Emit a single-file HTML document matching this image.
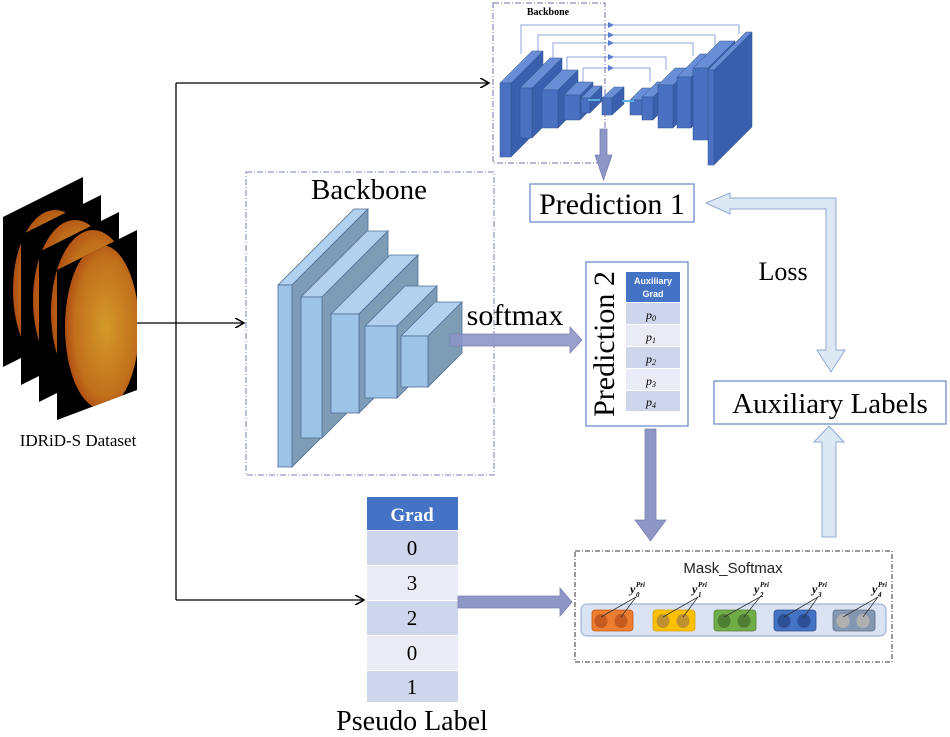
<!DOCTYPE html>
<html><head><meta charset="utf-8"><style>
html,body{margin:0;padding:0;background:#fff;}
svg{display:block;}
text{font-family:"Liberation Serif",serif;}
.s{font-family:"Liberation Sans",sans-serif;}
</style></head><body>
<svg width="950" height="737" viewBox="0 0 950 737" xmlns="http://www.w3.org/2000/svg">
<defs>
<radialGradient id="eye" cx="0.55" cy="0.5" r="0.6">
<stop offset="0" stop-color="#d39a2a"/><stop offset="0.7" stop-color="#c1701c"/><stop offset="1" stop-color="#a8400e"/>
</radialGradient>
<marker id="ah" markerWidth="8" markerHeight="8" refX="7" refY="4" orient="auto"><path d="M0,0 L7,4 L0,8" fill="none" stroke="#000" stroke-width="1.2"/></marker>
<clipPath id="c0"><polygon points="3,217 83,177 83,327 3,367"/></clipPath>
<clipPath id="c1"><polygon points="21,235 101,195 101,345 21,385"/></clipPath>
<clipPath id="c2"><polygon points="39,252 119,212 119,362 39,402"/></clipPath>
<clipPath id="c3"><polygon points="57,270 137,230 137,390 57,420"/></clipPath>
</defs>

<!-- image stack -->
<polygon points="3,217 83,177 83,327 3,367" fill="#000"/>
<ellipse cx="55" cy="290" rx="42" ry="80" fill="url(#eye)" clip-path="url(#c0)"/>
<polygon points="21,235 101,195 101,345 21,385" fill="#000"/>
<ellipse cx="75" cy="300" rx="42" ry="80" fill="url(#eye)" clip-path="url(#c1)"/>
<polygon points="39,252 119,212 119,362 39,402" fill="#000"/>
<ellipse cx="93" cy="312" rx="42" ry="82" fill="url(#eye)" clip-path="url(#c2)"/>
<polygon points="57,270 137,230 137,390 57,420" fill="#000"/>
<ellipse cx="102" cy="327" rx="37" ry="82" fill="url(#eye)" clip-path="url(#c3)"/>
<text x="78" y="446" font-size="17" text-anchor="middle">IDRiD-S Dataset</text>

<!-- black connectors -->
<g stroke="#000" stroke-width="1.3" fill="none">
<line x1="137" y1="323" x2="176" y2="323"/>
<line x1="176" y1="83" x2="176" y2="600"/>
<line x1="176" y1="83" x2="489" y2="83" marker-end="url(#ah)"/>
<line x1="176" y1="323" x2="244" y2="323" marker-end="url(#ah)"/>
<line x1="176" y1="600" x2="364" y2="600" marker-end="url(#ah)"/>
</g>

<!-- top backbone skip lines -->
<g stroke="#8ea6dc" stroke-width="1" fill="none">
<polyline points="521,54 521,25 739,25 739,34"/>
<polyline points="538,60 538,35 715,35 715,46"/>
<polyline points="553,70 553,43 693,43 693,56"/>
<polyline points="567,82 567,57 666,57 666,70"/>
<polyline points="583,88 583,68 650,68 650,82"/>
</g>
<g fill="#5a7bd0"><path d="M608,22 l6,3 l-6,3z M608,32 l6,3 l-6,3z M608,40 l6,3 l-6,3z M608,54 l6,3 l-6,3z M608,65 l6,3 l-6,3z"/></g>
<g stroke="#2f528f" stroke-width="0.5">
<polygon points="500,83 511,83 543,51 532,51" fill="#6a8ed6"/><polygon points="511,83 543,51 543,125 511,157" fill="#3a5fad"/><rect x="500" y="83" width="11" height="74" fill="#4a70c2"/>
<polygon points="520,88 532,88 562,58 550,58" fill="#6a8ed6"/><polygon points="532,88 562,58 562,108 532,138" fill="#3a5fad"/><rect x="520" y="88" width="12" height="50" fill="#4a70c2"/>
<polygon points="542,90 558,90 578,70 562,70" fill="#6a8ed6"/><polygon points="558,90 578,70 578,108 558,128" fill="#3a5fad"/><rect x="542" y="90" width="16" height="38" fill="#4a70c2"/>
<polygon points="564,95 580,95 593,82 577,82" fill="#6a8ed6"/><polygon points="580,95 593,82 593,107 580,120" fill="#3a5fad"/><rect x="564" y="95" width="16" height="25" fill="#4a70c2"/>
<polygon points="581,98 590,98 602,86 593,86" fill="#6a8ed6"/><polygon points="590,98 602,86 602,101 590,113" fill="#3a5fad"/><rect x="581" y="98" width="9" height="15" fill="#4a70c2"/>
<polygon points="602,98 612,98 624,87 614,87" fill="#6a8ed6"/><polygon points="612,98 624,87 624,104 612,115" fill="#3a5fad"/><rect x="602" y="98" width="10" height="17" fill="#4a70c2"/>
<polygon points="630,100 642,100 654,88 642,88" fill="#6a8ed6"/><polygon points="642,100 654,88 654,103 642,115" fill="#3a5fad"/><rect x="630" y="100" width="12" height="15" fill="#4a70c2"/>
<polygon points="642,97 653,97 668,82 657,82" fill="#6a8ed6"/><polygon points="653,97 668,82 668,105 653,120" fill="#3a5fad"/><rect x="642" y="97" width="11" height="23" fill="#4a70c2"/>
<polygon points="658,85 673,85 690,68 675,68" fill="#6a8ed6"/><polygon points="673,85 690,68 690,111 673,128" fill="#3a5fad"/><rect x="658" y="85" width="15" height="43" fill="#4a70c2"/>
<polygon points="677,77 691,77 714,54 700,54" fill="#6a8ed6"/><polygon points="691,77 714,54 714,105 691,128" fill="#3a5fad"/><rect x="677" y="77" width="14" height="51" fill="#4a70c2"/>
<polygon points="693,68 708,68 735,41 720,41" fill="#6a8ed6"/><polygon points="708,68 735,41 735,113 708,140" fill="#3a5fad"/><rect x="693" y="68" width="15" height="72" fill="#4a70c2"/>
<polygon points="708,70 714,70 752,32 746,32" fill="#6a8ed6"/><polygon points="714,70 752,32 752,127 714,165" fill="#3a5fad"/><rect x="708" y="70" width="6" height="95" fill="#4a70c2"/>
</g>
<line x1="588" y1="100" x2="600" y2="100" stroke="#5ab0e0" stroke-width="2"/>
<line x1="622" y1="101" x2="634" y2="101" stroke="#5ab0e0" stroke-width="2"/>
<rect x="493" y="3" width="112" height="160" fill="none" stroke="#6b73a8" stroke-width="1" stroke-dasharray="6,2,1,2"/>
<text x="548" y="15" font-size="10" font-weight="bold" text-anchor="middle">Backbone</text>

<polygon points="600,129 607,129 607,155 612,155 603.5,180 595,155 600,155" fill="#8e96c6" stroke="#7a82b8" stroke-width="0.8"/>
<rect x="530" y="184" width="164" height="38" fill="#fff" stroke="#6f8dc9" stroke-width="1.3"/>
<text x="612" y="214" font-size="30" text-anchor="middle">Prediction 1</text>

<!-- mid backbone -->
<rect x="246" y="172" width="248" height="303" fill="none" stroke="#7a80b8" stroke-width="1" stroke-dasharray="6,2,1,2"/>
<text x="369" y="199" font-size="29" text-anchor="middle">Backbone</text>
<g stroke="#4f6f98" stroke-width="0.8">
<polygon points="278,285 292,285 368,209 354,209" fill="#b1d1ee"/><polygon points="292,285 368,209 368,391 292,467" fill="#7f9cb6"/><rect x="278" y="285" width="14" height="182" fill="#9dc3e6"/>
<polygon points="301,297 322,297 388,231 367,231" fill="#b1d1ee"/><polygon points="322,297 388,231 388,372 322,438" fill="#7f9cb6"/><rect x="301" y="297" width="21" height="141" fill="#9dc3e6"/>
<polygon points="331,314 359,314 418,255 390,255" fill="#b1d1ee"/><polygon points="359,314 418,255 418,354 359,413" fill="#7f9cb6"/><rect x="331" y="314" width="28" height="99" fill="#9dc3e6"/>
<polygon points="365,326 397,326 437,286 405,286" fill="#b1d1ee"/><polygon points="397,326 437,286 437,358 397,398" fill="#7f9cb6"/><rect x="365" y="326" width="32" height="72" fill="#9dc3e6"/>
<polygon points="401,336 428,336 462,302 435,302" fill="#b1d1ee"/><polygon points="428,336 462,302 462,353 428,387" fill="#7f9cb6"/><rect x="401" y="336" width="27" height="51" fill="#9dc3e6"/>
</g>
<polygon points="450,334 570,334 570,327 582,340 570,353 570,346 450,346" fill="#8e96c6" fill-opacity="0.9" stroke="#7a82b8" stroke-width="0.8"/>
<text x="515" y="325" font-size="30" text-anchor="middle">softmax</text>

<!-- prediction 2 -->
<rect x="586" y="262" width="102" height="164" fill="#fff" stroke="#6f8dc9" stroke-width="1.3"/>
<text transform="translate(614,344) rotate(-90)" font-size="30" text-anchor="middle">Prediction 2</text>
<rect x="626" y="272" width="54" height="30" fill="#4472c4"/>
<text x="653" y="284" font-size="9" font-weight="bold" fill="#fff" text-anchor="middle" class="s">Auxiliary</text>
<text x="653" y="297" font-size="9" font-weight="bold" fill="#fff" text-anchor="middle" class="s">Grad</text>
<rect x="626" y="303" width="54" height="21" fill="#cfd5ea"/>
<rect x="626" y="325" width="54" height="21" fill="#e9ebf5"/>
<rect x="626" y="347" width="54" height="21" fill="#cfd5ea"/>
<rect x="626" y="369" width="54" height="21" fill="#e9ebf5"/>
<rect x="626" y="391" width="54" height="20" fill="#cfd5ea"/>
<g font-size="12" font-style="italic" text-anchor="middle">
<text x="651" y="319">p<tspan font-size="8" dy="2">0</tspan></text>
<text x="651" y="341">p<tspan font-size="8" dy="2">1</tspan></text>
<text x="651" y="363">p<tspan font-size="8" dy="2">2</tspan></text>
<text x="651" y="385">p<tspan font-size="8" dy="2">3</tspan></text>
<text x="651" y="406">p<tspan font-size="8" dy="2">4</tspan></text>
</g>
<polygon points="645,429 656,429 656,520 666,520 650.5,541 635,520 645,520" fill="#8e96c6" stroke="#7a82b8" stroke-width="0.8"/>

<!-- grad table -->
<rect x="367" y="497" width="91" height="33" fill="#4472c4"/>
<text x="412" y="521" font-size="19" font-weight="bold" fill="#fff" text-anchor="middle">Grad</text>
<rect x="367" y="531" width="91" height="34" fill="#cfd5ea"/>
<rect x="367" y="566" width="91" height="34" fill="#e9ebf5"/>
<rect x="367" y="601" width="91" height="34" fill="#cfd5ea"/>
<rect x="367" y="636" width="91" height="34" fill="#e9ebf5"/>
<rect x="367" y="671" width="91" height="31" fill="#cfd5ea"/>
<g font-size="21" text-anchor="middle">
<text x="412" y="555">0</text><text x="412" y="590">3</text><text x="412" y="625">2</text><text x="412" y="660">0</text><text x="412" y="694">1</text>
</g>
<text x="412" y="730" font-size="28" text-anchor="middle">Pseudo Label</text>
<polygon points="458,596 560,596 560,588 572,602 560,616 560,608 458,608" fill="#8e96c6" stroke="#7a82b8" stroke-width="0.8"/>

<!-- Mask softmax -->
<rect x="575" y="551" width="317" height="111" fill="none" stroke="#333" stroke-width="1" stroke-dasharray="5,2,1,2"/>
<text x="733" y="573" font-size="15" text-anchor="middle" class="s" fill="#222">Mask_Softmax</text>
<rect x="581" y="604" width="305" height="32" rx="6" fill="#dae3f3" stroke="#8fa3d6" stroke-width="1"/>
<g stroke-width="0.8">
<rect x="592" y="610" width="41" height="21" rx="3" fill="#ed7d31" stroke="#c55a11"/>
<ellipse cx="601" cy="621" rx="6.5" ry="7" fill="#c55a21"/><ellipse cx="621" cy="621" rx="6.5" ry="7" fill="#c55a21"/>
<rect x="653" y="610" width="42" height="21" rx="3" fill="#ffc000" stroke="#d8a000"/>
<ellipse cx="663" cy="621" rx="6.5" ry="7" fill="#bf9030"/><ellipse cx="683" cy="621" rx="6.5" ry="7" fill="#bf9030"/>
<rect x="714" y="610" width="42" height="21" rx="3" fill="#70ad47" stroke="#548235"/>
<ellipse cx="724" cy="621" rx="6.5" ry="7" fill="#4e7f35"/><ellipse cx="744" cy="621" rx="6.5" ry="7" fill="#4e7f35"/>
<rect x="774" y="610" width="42" height="21" rx="3" fill="#4472c4" stroke="#2f528f"/>
<ellipse cx="784" cy="621" rx="6.5" ry="7" fill="#2c4f95"/><ellipse cx="804" cy="621" rx="6.5" ry="7" fill="#2c4f95"/>
<rect x="833" y="610" width="42" height="21" rx="3" fill="#8497b0" stroke="#5f6f88"/>
<ellipse cx="843" cy="621" rx="6.5" ry="7" fill="#b0b0b0"/><ellipse cx="863" cy="621" rx="6.5" ry="7" fill="#b0b0b0"/>
</g>
<g stroke="#333" stroke-width="0.8">
<line x1="636" y1="597" x2="601" y2="617"/><line x1="636" y1="597" x2="621" y2="617"/>
<line x1="698" y1="597" x2="663" y2="617"/><line x1="698" y1="597" x2="683" y2="617"/>
<line x1="760" y1="597" x2="724" y2="617"/><line x1="760" y1="597" x2="744" y2="617"/>
<line x1="818" y1="597" x2="784" y2="617"/><line x1="818" y1="597" x2="804" y2="617"/>
<line x1="878" y1="597" x2="843" y2="617"/><line x1="878" y1="597" x2="863" y2="617"/>
</g>
<g font-size="12" font-style="italic" font-weight="bold">
<text x="630" y="593">y</text><text x="636" y="597" font-size="7">0</text><text x="636" y="587" font-size="7">Pri</text>
<text x="692" y="593">y</text><text x="698" y="597" font-size="7">1</text><text x="698" y="587" font-size="7">Pri</text>
<text x="754" y="593">y</text><text x="760" y="597" font-size="7">2</text><text x="760" y="587" font-size="7">Pri</text>
<text x="812" y="593">y</text><text x="818" y="597" font-size="7">3</text><text x="818" y="587" font-size="7">Pri</text>
<text x="872" y="593">y</text><text x="878" y="597" font-size="7">4</text><text x="878" y="587" font-size="7">Pri</text>
</g>

<!-- loss arrow -->
<polygon points="706,203 730,193 730,198 836,198 836,350 845,350 831,372 817,350 826,350 826,209 730,209 730,214" fill="#dde8f5" stroke="#8fa8d6" stroke-width="1"/>
<text x="783" y="280" font-size="26" text-anchor="middle">Loss</text>
<rect x="714" y="381" width="232" height="43" fill="#fff" stroke="#6f8dc9" stroke-width="1.3"/>
<text x="830" y="413" font-size="29" text-anchor="middle">Auxiliary Labels</text>
<polygon points="822,537 836,537 836,442 844,442 829,426 814,442 822,442" fill="#dde8f5" stroke="#8fa8d6" stroke-width="1"/>
</svg>
</body></html>
